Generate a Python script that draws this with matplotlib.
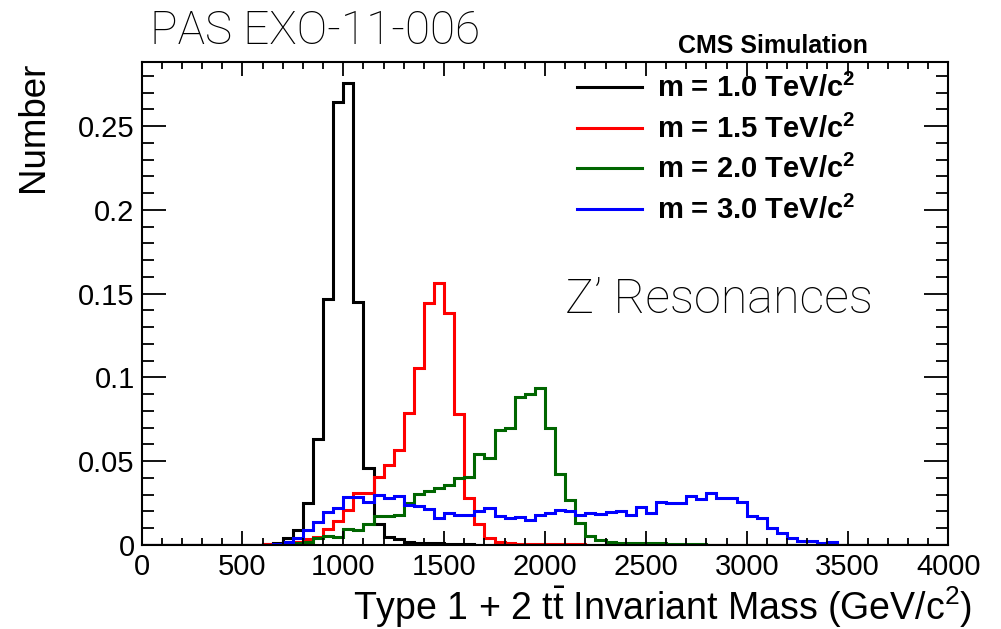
import numpy as np
import matplotlib.pyplot as plt
from matplotlib.ticker import MultipleLocator

plt.rcParams['font.family'] = ['Liberation Sans', 'DejaVu Sans']
plt.rcParams['mathtext.fontset'] = 'custom'
plt.rcParams['mathtext.rm'] = 'Liberation Sans'
plt.rcParams['mathtext.bf'] = 'Liberation Sans:bold'

# 50 GeV bins over 0-4000; listed values start at the 600 GeV bin
bin_width = 50
first_bin = 600

m1000 = [0.0005, 0.0014, 0.004, 0.009, 0.025, 0.063, 0.147, 0.2645, 0.2758,
         0.145, 0.0457, 0.0127, 0.005, 0.0034, 0.0015, 0.0012, 0.001, 0.001,
         0.0008, 0.0006, 0.0003]
m1500 = [0.0003, 0.0008, 0.0015, 0.002, 0.0034, 0.005, 0.0094, 0.0145, 0.021,
         0.031, 0.031, 0.0405, 0.0477, 0.0567, 0.079, 0.1054, 0.1446, 0.1561,
         0.1382, 0.0784, 0.0279, 0.0125, 0.004, 0.002, 0.0014, 0.0008, 0.0008,
         0.0008, 0.0004, 0.0004, 0.0004, 0.0004]
m2000 = [0.0, 0.0003, 0.0006, 0.001, 0.0015, 0.004, 0.0052, 0.0048, 0.0094,
         0.0092, 0.0127, 0.0175, 0.0175, 0.0177, 0.0249, 0.0304, 0.0324,
         0.0338, 0.0358, 0.0398, 0.0406, 0.0543, 0.0522, 0.0686, 0.0696,
         0.0881, 0.0901, 0.0939, 0.0696, 0.0424, 0.0266, 0.0131, 0.0054,
         0.003, 0.002, 0.001, 0.001, 0.001, 0.001, 0.001, 0.0005, 0.0005,
         0.0005, 0.0005]
m3000 = [0.0, 0.0005, 0.0015, 0.004, 0.009, 0.0139, 0.0195, 0.022, 0.0286,
         0.0289, 0.0259, 0.0299, 0.0278, 0.0294, 0.0239, 0.0233, 0.0213,
         0.0159, 0.0193, 0.0179, 0.0179, 0.0205, 0.0219, 0.0173, 0.0163,
         0.0169, 0.0149, 0.0179, 0.0193, 0.0209, 0.0205, 0.0181, 0.0193,
         0.0185, 0.0195, 0.0205, 0.0179, 0.0229, 0.0193, 0.0259, 0.0249,
         0.0249, 0.029, 0.0272, 0.0308, 0.0282, 0.0278, 0.0259, 0.0173,
         0.0163, 0.010, 0.0073, 0.0044, 0.0026, 0.0026, 0.001, 0.0015]

labels = [r'm = 1.0 TeV/c$^{\mathbf{2}}$', r'm = 1.5 TeV/c$^{\mathbf{2}}$',
          r'm = 2.0 TeV/c$^{\mathbf{2}}$', r'm = 3.0 TeV/c$^{\mathbf{2}}$']
colors = ['black', '#ff0000', '#006600', '#0000ff']

edges = np.arange(0, 4000 + bin_width, bin_width)


def full_hist(vals):
    h = np.zeros(len(edges) - 1)
    i0 = first_bin // bin_width
    h[i0:i0 + len(vals)] = vals
    return h


W, H = 1001, 629
fig = plt.figure(figsize=(W / 100, H / 100), dpi=100)
ax = fig.add_axes([141.6 / W, 84 / H, 806.8 / W, 483 / H])

for vals, lab, c in zip([m1000, m1500, m2000, m3000], labels, colors):
    ax.stairs(full_hist(vals), edges, color=c, lw=2.2, label=lab)

ax.set_xlim(0, 4000)
ax.set_ylim(0, 0.2882)
ax.xaxis.set_major_locator(MultipleLocator(500))
ax.xaxis.set_minor_locator(MultipleLocator(100))
ax.yaxis.set_minor_locator(MultipleLocator(0.01))
ax.set_yticks([0, 0.05, 0.1, 0.15, 0.2, 0.25])
ax.set_yticklabels(['0', '0.05', '0.1', '0.15', '0.2', '0.25'])
ax.tick_params(which='both', direction='in', top=True, right=True,
               width=1.3, labelsize=21)
ax.tick_params(axis='x', which='major', length=10, pad=6)
ax.tick_params(axis='x', which='minor', length=5)
ax.tick_params(axis='y', which='major', length=17.5, pad=5)
ax.tick_params(axis='y', which='minor', length=8.8)
for s in ax.spines.values():
    s.set_linewidth(1.5)

# axis titles sit at the far ends of the axes
fig.text(972 / W, 1 - 620 / H,
         r'Type 1 + 2 $\mathrm{t\bar{t}}$ Invariant Mass (GeV/c$^{2}$)',
         fontsize=27, ha='right', va='baseline')
fig.text(16 / W, 1 - 62 / H, 'Number', fontsize=26.5, rotation=90,
         ha='left', va='top')

ax.legend(loc='upper left', bbox_to_anchor=(577 / W, 1 - 74 / H),
          bbox_transform=fig.transFigure, frameon=False,
          prop={'weight': 'bold', 'size': 21}, handlelength=2.23,
          handletextpad=0.5, labelspacing=0.39, borderpad=0,
          borderaxespad=0)

fig.text(150 / W, 1 - 31 / H, 'PAS EXO-11-006', fontsize=33,
         family=['Roboto', 'Liberation Sans'], weight='light', va='center')
fig.text(868 / W, 1 - 46 / H, 'CMS Simulation', fontsize=18,
         weight='bold', ha='right', va='center')
fig.text(565 / W, 1 - 300 / H, 'Z\u2019 Resonances', fontsize=35,
         family=['Roboto', 'Liberation Sans'], weight='light', va='center')

fig.savefig('out.png', dpi=100)
